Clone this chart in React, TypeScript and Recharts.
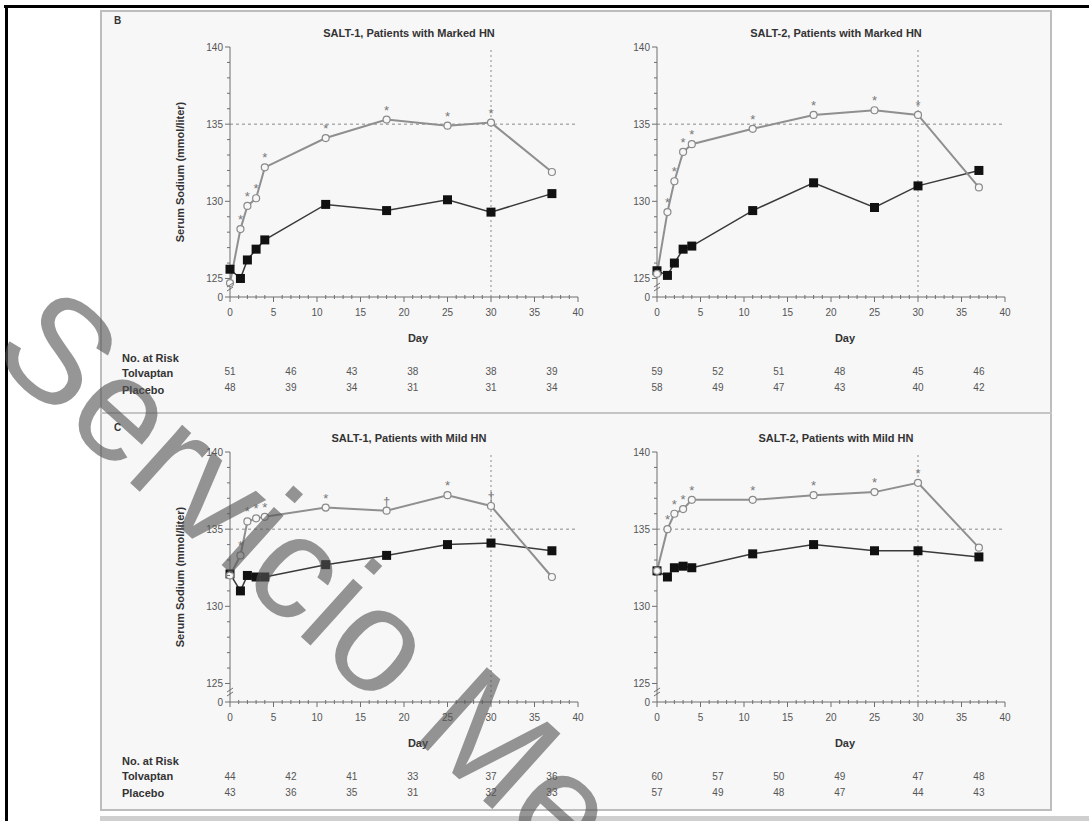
import React from 'react';
import { LineChart, Line, XAxis, YAxis, ReferenceLine, LabelList } from 'recharts';

// study days of each visit (the 8-hour visit sits just right of day 1)
const days = [0, 1.2, 2, 3, 4, 11, 18, 25, 30, 37];
const riskDays = [0, 7, 14, 21, 30, 37];
const xMajorTicks = [0, 5, 10, 15, 20, 25, 30, 35, 40];
const yMajorTicks = [125, 130, 135, 140];
const Y_BREAK = 123.8; // bottom of the broken axis, labelled "0"

// SALT-1, marked HN
const salt1MarkedTolvaptan = [124.7, 128.2, 129.7, 130.2, 132.2, 134.1, 135.3, 134.9, 135.1, 131.9];
const salt1MarkedPlacebo = [125.6, 125.0, 126.2, 126.9, 127.5, 129.8, 129.4, 130.1, 129.3, 130.5];
const salt1MarkedSig = ['', '*', '*', '*', '*', '*', '*', '*', '*', ''];
const salt1MarkedRiskT = [51, 46, 43, 38, 38, 39];
const salt1MarkedRiskP = [48, 39, 34, 31, 31, 34];

// SALT-2, marked HN
const salt2MarkedTolvaptan = [125.3, 129.3, 131.3, 133.2, 133.7, 134.7, 135.6, 135.9, 135.6, 130.9];
const salt2MarkedPlacebo = [125.5, 125.2, 126.0, 126.9, 127.1, 129.4, 131.2, 129.6, 131.0, 132.0];
const salt2MarkedSig = ['', '*', '*', '*', '*', '*', '*', '*', '*', ''];
const salt2MarkedRiskT = [59, 52, 51, 48, 45, 46];
const salt2MarkedRiskP = [58, 49, 47, 43, 40, 42];

// SALT-1, mild HN
const salt1MildTolvaptan = [132.0, 133.3, 135.5, 135.7, 135.8, 136.4, 136.2, 137.2, 136.5, 131.9];
const salt1MildPlacebo = [132.1, 131.0, 132.0, 131.9, 131.9, 132.7, 133.3, 134.0, 134.1, 133.6];
const salt1MildSig = ['', '*', '*', '*', '*', '*', '†', '*', '†', ''];
const salt1MildRiskT = [44, 42, 41, 33, 37, 36];
const salt1MildRiskP = [43, 36, 35, 31, 32, 33];

// SALT-2, mild HN
const salt2MildTolvaptan = [132.3, 135.0, 136.0, 136.3, 136.9, 136.9, 137.2, 137.4, 138.0, 133.8];
const salt2MildPlacebo = [132.3, 131.9, 132.5, 132.6, 132.5, 133.4, 134.0, 133.6, 133.6, 133.2];
const salt2MildSig = ['', '*', '*', '*', '*', '*', '*', '*', '*', ''];
const salt2MildRiskT = [60, 57, 50, 49, 47, 48];
const salt2MildRiskP = [57, 49, 48, 47, 44, 43];

const NARROW = "'Liberation Sans Narrow', 'Liberation Sans', Arial, sans-serif";
const SANS = "'Liberation Sans', Arial, sans-serif";
const AXIS = '#6f6f6f';
const BG = '#f7f7f7';

const xTicks: number[] = [];
for (let d = 0; d <= 40; d++) xTicks.push(d);
const yTicks: number[] = [Y_BREAK];
for (let v = 125; v <= 140; v++) yTicks.push(v);

const XTick = (props: any) => {
  const { x, y, payload } = props;
  const v = payload.value;
  const major = xMajorTicks.includes(v);
  return (
    <g>
      <line x1={x} x2={x} y1={major ? y : y - 2} y2={y + (major ? 5 : 2)} stroke={AXIS} strokeWidth={1} />
      {major && (
        <text x={x} y={y + 19} textAnchor="middle" fontSize={10} fill="#555" fontFamily={NARROW}>
          {v}
        </text>
      )}
    </g>
  );
};

const YTick = (props: any) => {
  const { x, y, payload } = props;
  const v = payload.value;
  if (v === Y_BREAK) {
    return (
      <g>
        <line x1={x} x2={x - 5} y1={y} y2={y} stroke={AXIS} />
        <text x={x - 7} y={y + 3.5} textAnchor="end" fontSize={10} fill="#555" fontFamily={NARROW}>0</text>
        <line x1={x - 3} x2={x + 3} y1={y - 6} y2={y - 10} stroke={AXIS} />
        <line x1={x - 3} x2={x + 3} y1={y - 10} y2={y - 14} stroke={AXIS} />
      </g>
    );
  }
  const major = yMajorTicks.includes(v);
  return (
    <g>
      <line x1={x} x2={x - (major ? 5 : 3)} y1={y} y2={y} stroke={AXIS} />
      {major && (
        <text x={x - 7} y={y + 3.5} textAnchor="end" fontSize={10} fill="#555" fontFamily={NARROW}>
          {v}
        </text>
      )}
    </g>
  );
};

const OpenCircle = (props: any) => {
  const { cx, cy, index } = props;
  if (cx == null || cy == null) return <g key={index} />;
  return <circle key={index} cx={cx} cy={cy} r={3.5} fill={BG} stroke="#8a8a8a" strokeWidth={1.2} />;
};

const Square = (props: any) => {
  const { cx, cy, index } = props;
  if (cx == null || cy == null) return <g key={index} />;
  return <rect key={index} x={cx - 4.5} y={cy - 4.5} width={9} height={9} fill="#111" />;
};

const CHART_W = 500;
const CHART_H = 400;
const MARGIN = { top: 37, right: 22, left: 75, bottom: 14 };
const Y_W = 55;

interface PanelProps {
  left: number;
  top: number;
  title: string;
  tolvaptan: number[];
  placebo: number[];
  sig: string[];
  riskT: number[];
  riskP: number[];
  yLabel?: boolean;
}

const Panel: React.FC<PanelProps> = ({ left, top, title, tolvaptan, placebo, sig, riskT, riskP, yLabel }) => {
  const rows = days.map((day, i) => ({ day, tolvaptan: tolvaptan[i], placebo: placebo[i], sig: sig[i] }));
  const plotLeft = MARGIN.left + Y_W;
  const plotW = CHART_W - plotLeft - MARGIN.right;
  return (
    <div style={{ position: 'absolute', left, top, width: CHART_W, height: CHART_H }}>
      <div
        style={{
          position: 'absolute', left: plotLeft + 5, width: plotW, top: 16, lineHeight: '14px',
          textAlign: 'center', fontFamily: SANS, fontSize: 11, fontWeight: 'bold', color: '#333',
        }}
      >
        {title}
      </div>
      <LineChart width={CHART_W} height={CHART_H} data={rows} margin={MARGIN}>
        <XAxis
          xAxisId="a_main" dataKey="day" type="number" domain={[0, 40]} ticks={xTicks} interval={0}
          tickSize={0} tickMargin={0} tickLine={false} tick={XTick} stroke={AXIS} height={57}
          label={{ value: 'Day', position: 'insideBottom', offset: 12, dx: 14, fontSize: 11, fontWeight: 'bold', fill: '#333', fontFamily: SANS }}
        />
        <XAxis
          xAxisId="b_riskT" dataKey="day" type="number" domain={[0, 40]} ticks={riskDays} interval={0}
          axisLine={false} tickLine={false} tickSize={0} tickMargin={13.5} height={25}
          tickFormatter={(v: number) => String(riskT[riskDays.indexOf(v)])}
          tick={{ fontSize: 10, fill: '#555', fontFamily: NARROW }}
        />
        <XAxis
          xAxisId="c_riskP" dataKey="day" type="number" domain={[0, 40]} ticks={riskDays} interval={0}
          axisLine={false} tickLine={false} tickSize={0} tickMargin={4.5} height={17}
          tickFormatter={(v: number) => String(riskP[riskDays.indexOf(v)])}
          tick={{ fontSize: 10, fill: '#555', fontFamily: NARROW }}
        />
        <YAxis
          type="number" domain={[Y_BREAK, 140]} ticks={yTicks} interval={0} allowDataOverflow
          width={Y_W} tickSize={0} tickMargin={0} tickLine={false} tick={YTick} stroke={AXIS}
          label={yLabel ? {
            value: 'Serum Sodium (mmol/liter)', angle: -90, position: 'insideLeft', offset: 5,
            style: { textAnchor: 'middle' }, fontSize: 11, fontWeight: 'bold', fill: '#333', fontFamily: SANS,
          } : undefined}
        />
        <ReferenceLine xAxisId="a_main" y={135} stroke="#8a8a8a" strokeDasharray="3 3" />
        <ReferenceLine xAxisId="a_main" x={30} stroke="#8a8a8a" strokeDasharray="2 3" />
        <Line
          xAxisId="a_main" type="linear" dataKey="placebo" stroke="#3a3a3a" strokeWidth={1.5}
          dot={Square} activeDot={false} isAnimationActive={false}
        />
        <Line
          xAxisId="a_main" type="linear" dataKey="tolvaptan" stroke="#8f8f8f" strokeWidth={2}
          dot={OpenCircle} activeDot={false} isAnimationActive={false}
        >
          <LabelList dataKey="sig" position="top" offset={5} fontSize={13} fill="#777" fontFamily={SANS} />
        </Line>
      </LineChart>
    </div>
  );
};

const RowLabels: React.FC<{ top: number }> = ({ top }) => {
  const st: React.CSSProperties = {
    position: 'absolute', left: 122, fontFamily: SANS, fontSize: 11, fontWeight: 'bold',
    color: '#333', lineHeight: '14px', whiteSpace: 'nowrap',
  };
  return (
    <>
      <div style={{ ...st, top: top - 7 }}>No. at Risk</div>
      <div style={{ ...st, top: top + 8 }}>Tolvaptan</div>
      <div style={{ ...st, top: top + 25 }}>Placebo</div>
    </>
  );
};

export default function App() {
  return (
    <div style={{ position: 'absolute', left: 0, top: 0, width: 1089, height: 821, background: '#fff', overflow: 'hidden' }}>
      {/* black frame of the scan */}
      <div style={{ position: 'absolute', left: 4, top: 5, width: 1085, height: 3, background: '#000' }} />
      <div style={{ position: 'absolute', left: 5, top: 5, width: 3, height: 816, background: '#000' }} />
      {/* figure box */}
      <div style={{ position: 'absolute', left: 100, top: 10, width: 948, height: 797, background: BG, border: '2px solid #bdbdbd' }} />
      <div style={{ position: 'absolute', left: 100, top: 412, width: 952, height: 2, background: '#c4c4c4' }} />
      <div style={{ position: 'absolute', left: 100, top: 816, width: 989, height: 5, background: '#cfcfcf' }} />

      <div style={{ position: 'absolute', left: 114, top: 15, fontFamily: SANS, fontSize: 10, fontWeight: 'bold', color: '#333' }}>B</div>
      <div style={{ position: 'absolute', left: 114, top: 422, fontFamily: SANS, fontSize: 10, fontWeight: 'bold', color: '#333' }}>C</div>

      <Panel left={100} top={10} title="SALT-1, Patients with Marked HN" tolvaptan={salt1MarkedTolvaptan}
        placebo={salt1MarkedPlacebo} sig={salt1MarkedSig} riskT={salt1MarkedRiskT} riskP={salt1MarkedRiskP} yLabel />
      <Panel left={527} top={10} title="SALT-2, Patients with Marked HN" tolvaptan={salt2MarkedTolvaptan}
        placebo={salt2MarkedPlacebo} sig={salt2MarkedSig} riskT={salt2MarkedRiskT} riskP={salt2MarkedRiskP} />
      <Panel left={100} top={415} title="SALT-1, Patients with Mild HN" tolvaptan={salt1MildTolvaptan}
        placebo={salt1MildPlacebo} sig={salt1MildSig} riskT={salt1MildRiskT} riskP={salt1MildRiskP} yLabel />
      <Panel left={527} top={415} title="SALT-2, Patients with Mild HN" tolvaptan={salt2MildTolvaptan}
        placebo={salt2MildPlacebo} sig={salt2MildSig} riskT={salt2MildRiskT} riskP={salt2MildRiskP} />

      <RowLabels top={358} />
      <RowLabels top={761} />

      {/* watermark */}
      <svg width={1089} height={821} style={{ position: 'absolute', left: 0, top: 0, pointerEvents: 'none' }}>
        <text x={-12} y={355} transform="rotate(42 -12 355)" fontSize={148} fontFamily={SANS} fill="#555" fillOpacity={0.62}>
          Servicio Me
        </text>
      </svg>
    </div>
  );
}
